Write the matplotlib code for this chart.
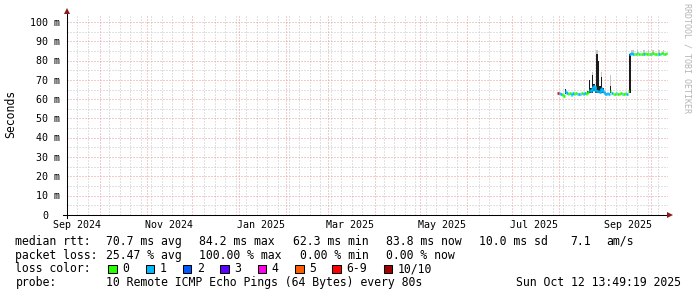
import matplotlib
matplotlib.use("Agg")
import matplotlib.pyplot as plt
import matplotlib.dates as mdates
import matplotlib.transforms as mtransforms
from matplotlib.patches import Rectangle
import pandas as pd

plt.rcParams['font.family'] = 'DejaVu Sans Mono'

# graph span
start = "2024-09-09 01:49"
end = "2025-10-12 13:49"

# daily median rtt (ms) from first_day on, and the loss class of each day
first_day = "2025-07-31 12:00"
median_ms = [63.0, 63.4, 62.8, 62.5, 61.8, 64.0, 63.2, 62.6, 63.0, 62.4,
             63.3, 62.7, 63.0, 62.5, 62.9, 62.6, 63.1, 62.8, 63.2, 62.9,
             63.5, 65.0, 64.0, 66.0, 67.0, 64.0, 64.5, 64.5, 63.8, 66.0,
             64.5, 63.0, 62.8, 63.0, 62.9, 64.0, 63.0, 62.8, 62.9, 63.1,
             62.8, 62.9, 63.0, 62.7, 62.9, 63.0, 62.8, 64.0, 83.6, 83.7,
             83.5, 83.6, 83.6, 83.7, 83.6, 83.5, 83.6, 83.6, 83.7, 83.6,
             83.5, 83.6, 83.6, 83.7, 83.6, 83.6, 83.5, 83.6, 83.6, 83.7,
             83.6, 83.6, 83.8]
loss_idx = [6, 1, 1, 0, 0, 1, 1, 0, 0, 1,
            1, 0, 0, 1, 1, 1, 0, 1, 1, 0,
            0, 1, 1, 1, 1, 1, 1, 1, 1, 1,
            1, 1, 1, 1, 1, 0, 1, 0, 0, 1,
            0, 0, 0, 1, 0, 0, 1, 0, 1, 1,
            1, 0, 0, 1, 0, 0, 0, 1, 0, 0,
            0, 0, 1, 0, 0, 0, 0, 1, 0, 0,
            1, 0, 0]

# dark smoke columns
spike_days = ["2025-08-05", "2025-08-20", "2025-08-21", "2025-08-22", "2025-08-23",
              "2025-08-24", "2025-08-25", "2025-08-26", "2025-08-27", "2025-08-28",
              "2025-08-29", "2025-08-30", "2025-09-04", "2025-09-17"]
spike_lo = [62.8, 63.0, 63.0, 63.0, 63.0, 64.0, 63.0, 63.0, 63.0, 63.0,
            63.0, 63.0, 63.0, 63.0]
spike_hi = [65.5, 64.5, 70.0, 66.0, 72.7, 68.0, 66.5, 83.5, 80.0, 67.0,
            71.5, 66.0, 66.8, 83.6]

# light smoke
haze_days = ["2025-08-23", "2025-08-26", "2025-08-29", "2025-09-04", "2025-09-18",
             "2025-09-19", "2025-09-22", "2025-09-26", "2025-09-29", "2025-10-02",
             "2025-10-06", "2025-10-09"]
haze_lo = [63.0, 63.0, 63.0, 63.0, 83.6, 83.6, 83.6, 83.6, 83.6, 83.6, 83.6, 83.6]
haze_hi = [74.0, 85.5, 74.0, 72.4, 85.6, 85.4, 85.8, 85.5, 85.4, 85.6, 85.5, 85.7]

loss_labels = ["0", "1", "2", "3", "4", "5", "6-9", "10/10"]
loss_colors = ["#26ff00", "#00b8ff", "#0059ff", "#5e00ff", "#ff00ea",
               "#ff5e00", "#ff0000", "#a10000"]

y_values = [0, 10, 20, 30, 40, 50, 60, 70, 80, 90, 100]
y_labels = ["0", "10 m", "20 m", "30 m", "40 m", "50 m", "60 m", "70 m",
            "80 m", "90 m", "100 m"]
x_label_days = ["2024-09-16", "2024-11-16", "2025-01-16", "2025-03-16",
                "2025-05-16", "2025-07-16", "2025-09-16"]
x_labels = ["Sep 2024", "Nov 2024", "Jan 2025", "Mar 2025", "May 2025",
            "Jul 2025", "Sep 2025"]

rtt_stats = ["70.7 ms avg", "84.2 ms max", "62.3 ms min", "83.8 ms now", "10.0 ms sd"]
am_s = "7.1"
loss_stats = ["25.47 % avg", "100.00 % max", "0.00 % min", "0.00 % now"]
probe_text = "10 Remote ICMP Echo Pings (64 Bytes) every 80s"
stamp = "Sun Oct 12 13:49:19 2025"

W, H = 697, 297
fig = plt.figure(figsize=(W / 100, H / 100), dpi=100, facecolor="white")
ax = fig.add_axes([67 / W, 1 - 215 / H, 601 / W, 201 / H])
ax.set_axis_off()

t0 = mdates.date2num(pd.Timestamp(start))
t1 = mdates.date2num(pd.Timestamp(end))
ax.set_xlim(t0, t1)
ax.set_ylim(0, 201 / 1.93)

# grid, 1px dots
minor_c, major_c = "#c4c4c4", "#e89898"
dots = (0, (1, 2))
months = mdates.date2num(pd.date_range("2024-10-01", end, freq="MS"))
for v in range(5, 105, 10):
    ax.axhline(v, color=minor_c, lw=0.72, ls=dots, zorder=1)
for d in mdates.date2num(pd.date_range("2024-09-16", end, freq="7D")):
    if min(abs(d - months)) > 1.5:
        ax.axvline(d, color=minor_c, lw=0.72, ls=dots, zorder=1)
for v in y_values[1:]:
    ax.axhline(v, color=major_c, lw=0.72, ls=dots, zorder=1)
for d in months:
    ax.axvline(d, color=major_c, lw=0.72, ls=dots, zorder=1)

# smoke
hx = mdates.date2num(pd.to_datetime(haze_days)) + 0.5
ax.bar(hx, [h - l for l, h in zip(haze_lo, haze_hi)], bottom=haze_lo,
       width=1.0, color="#c6c6c6", linewidth=0, zorder=2)
sx = mdates.date2num(pd.to_datetime(spike_days)) + 0.5
ax.bar(sx, [h - l for l, h in zip(spike_lo, spike_hi)], bottom=spike_lo,
       width=1.1, color="#1c1c1c", linewidth=0, zorder=3)

# median line, coloured by loss
days = mdates.date2num(pd.date_range(first_day, periods=len(median_ms), freq="D"))
for i, (t, m) in enumerate(zip(days, median_ms)):
    c = loss_colors[loss_idx[i]]
    ax.plot([t - 0.5, t + 0.5], [m, m], color=c, lw=1.9,
            solid_capstyle="butt", zorder=4)
    if i > 0 and loss_idx[i] == loss_idx[i - 1]:
        ax.plot([t - 0.5, t - 0.5], [median_ms[i - 1], m], color=c, lw=1.9,
                solid_capstyle="butt", zorder=4)

# axes with arrows
arrow_c = "#8b1a1a"
ax.plot([-0.0067, 1.0], [0, 0], color="black", lw=0.75,
        transform=ax.transAxes, clip_on=False, zorder=5)
ax.plot([0, 0], [-0.015, 1.01], color="black", lw=0.75,
        transform=ax.transAxes, clip_on=False, zorder=5)
ax.plot([1.0038], [0], marker=">", ms=4, color=arrow_c, mew=0,
        transform=ax.transAxes, clip_on=False, zorder=6)
ax.plot([0], [1.0174], marker="^", ms=4, color=arrow_c, mew=0,
        transform=ax.transAxes, clip_on=False, zorder=6)

# tick labels
ytr = mtransforms.offset_copy(
    mtransforms.blended_transform_factory(ax.transAxes, ax.transData),
    fig=fig, y=-3.6, units="dots")
for v, lab in zip(y_values, y_labels):
    xr = 60.5 if lab.endswith("m") else 48
    ax.text((xr - 67) / 601, v, lab, transform=ytr, ha="right",
            va="baseline", fontsize=7.2)
xtr = mtransforms.blended_transform_factory(ax.transData, ax.transAxes)
for d, lab in zip(x_label_days, x_labels):
    ax.text(mdates.date2num(pd.Timestamp(d)), (215 - 228.3) / 201, lab,
            transform=xtr, ha="center", va="baseline", fontsize=7.2)

fig.text(10.5 / W, 1 - 113.5 / H, "Seconds", rotation=90, ha="center",
         va="center", fontsize=8.3)
fig.text(687.5 / W, 1 - 58 / H, "RRDTOOL / TOBI OETIKER", rotation=270,
         ha="center", va="center", fontsize=6, color="#b4b4b4")


def put(px, base, s, **kw):
    fig.text(px / W, 1 - base / H, s, va="baseline", fontsize=8.3, **kw)


# legend
slots = [106.3, 199.3, 292.6, 386.0, 479.3]
put(15.4, 245, "median rtt:")
for x, s in zip(slots, rtt_stats):
    put(x, 245, s)
put(570.3, 245, am_s)
put(606.0, 245, "am/s")

put(15.4, 258.7, "packet loss:")
put(slots[0], 258.7, loss_stats[0])
put(slots[1], 258.7, loss_stats[1])
put(slots[2] + 6.96, 258.7, loss_stats[2])
put(slots[3], 258.7, loss_stats[3])

put(15.4, 272.5, "loss color:")
x = 108.3
for lab, c in zip(loss_labels, loss_colors):
    fig.add_artist(Rectangle((x / W, 1 - 273.3 / H), 8.4 / W, 8.3 / H,
                             transform=fig.transFigure, facecolor=c,
                             edgecolor="black", lw=0.75))
    put(x + 14.0, 272.5, lab)
    x += 14.3 + len(lab) * 6.96 + 16.1

put(15.4, 286, "probe:")
put(slots[0], 286, probe_text)
put(681, 286, stamp, ha="right")

fig.savefig("out.png", dpi=100, facecolor="white")
